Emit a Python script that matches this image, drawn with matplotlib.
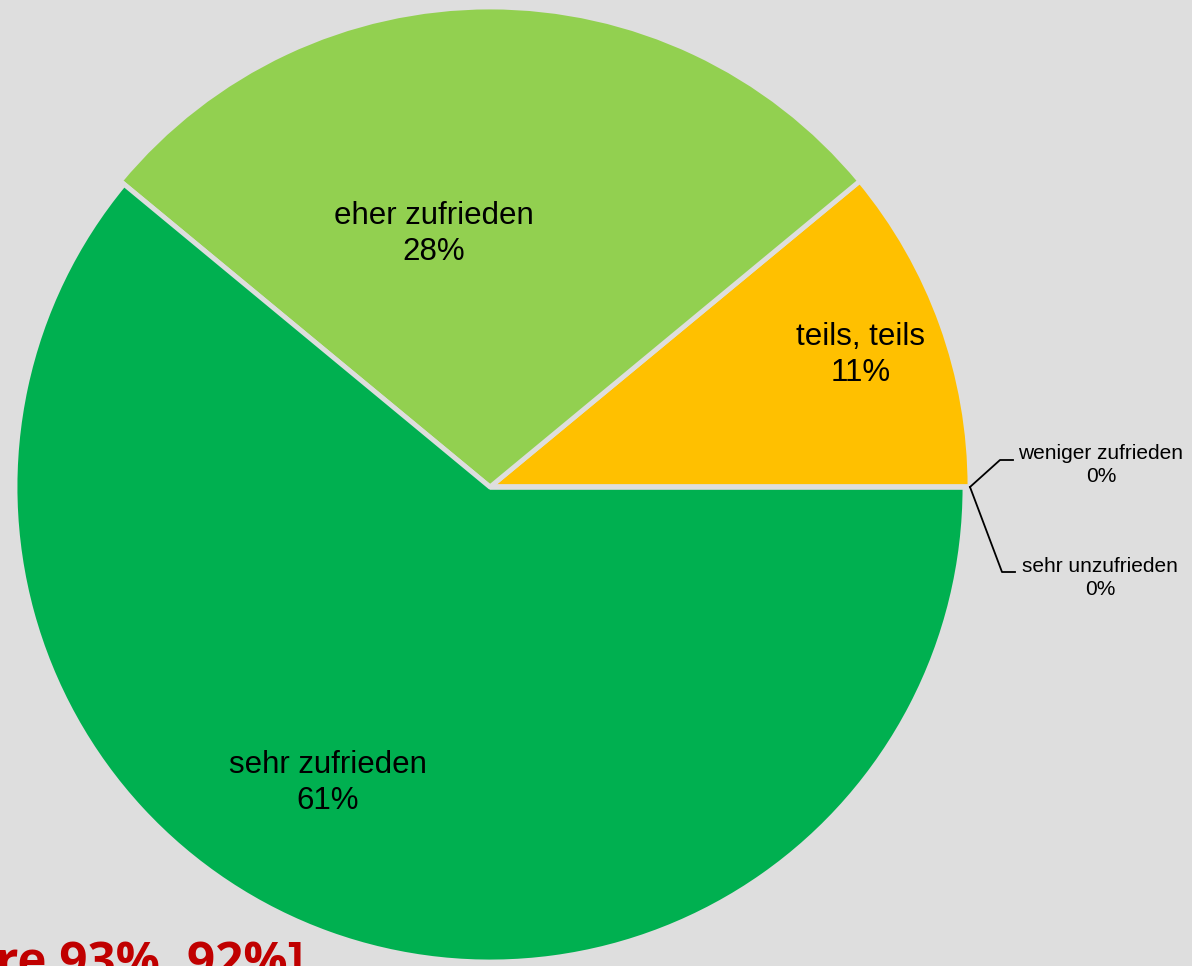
import matplotlib.pyplot as plt

# Zufriedenheit - Anteile in Prozent
kategorien = ['teils, teils', 'eher zufrieden', 'sehr zufrieden',
              'weniger zufrieden', 'sehr unzufrieden']
werte = [11, 28, 61, 0, 0]
farben = ['#FFC000', '#92D050', '#00B050', '#FF6600', '#C00000']
titel_rest = 're 93%, 92%]'

bg = '#DEDEDE'
fig = plt.figure(figsize=(11.92, 9.66), dpi=100, facecolor=bg)
ax = fig.add_axes([0, 0, 1, 1])
ax.set_facecolor(bg)

cx, cy = 490, 966 - 487
wedges, _ = ax.pie(werte, colors=farben, startangle=0, counterclock=True,
                   center=(cx, cy), radius=480, frame=True,
                   wedgeprops=dict(edgecolor=bg, linewidth=3.5))
# sehr zufrieden etwas kleiner
wedges[2].set_radius(475)
ax.set_xlim(0, 1192)
ax.set_ylim(0, 966)
ax.axis('off')

fs = 22.5
ax.text(434, 966 - 234, f'{kategorien[1]}\n{werte[1]}%', ha='center', va='center',
        fontsize=fs, family='Liberation Sans', linespacing=1.28)
ax.text(861, 966 - 355, f'{kategorien[0]}\n{werte[0]}%', ha='center', va='center',
        fontsize=fs, family='Liberation Sans', linespacing=1.28)
ax.text(328, 966 - 783, f'{kategorien[2]}\n{werte[2]}%', ha='center', va='center',
        fontsize=fs, family='Liberation Sans', linespacing=1.28)

# kleine Beschriftungen fuer 0%-Segmente mit Fuehrungslinien
fs2 = 15
ax.plot([970, 1000, 1013], [966 - 487, 966 - 460, 966 - 460], color='black', lw=1.3)
ax.plot([970, 1002, 1015], [966 - 487, 966 - 572, 966 - 572], color='black', lw=1.3)
ax.text(1101, 966 - 465, f'{kategorien[3]}\n{werte[3]}%', ha='center', va='center',
        fontsize=fs2, family='Liberation Sans', linespacing=1.3)
ax.text(1100, 966 - 578, f'{kategorien[4]}\n{werte[4]}%', ha='center', va='center',
        fontsize=fs2, family='Liberation Sans', linespacing=1.3)

# abgeschnittener Titel unten links
ax.text(-4, 966 - 977, titel_rest, ha='left', va='baseline', fontsize=35.5,
        fontweight='bold', color='#C00000', family='Open Sans')

fig.savefig('out.png', dpi=100, facecolor=bg)
